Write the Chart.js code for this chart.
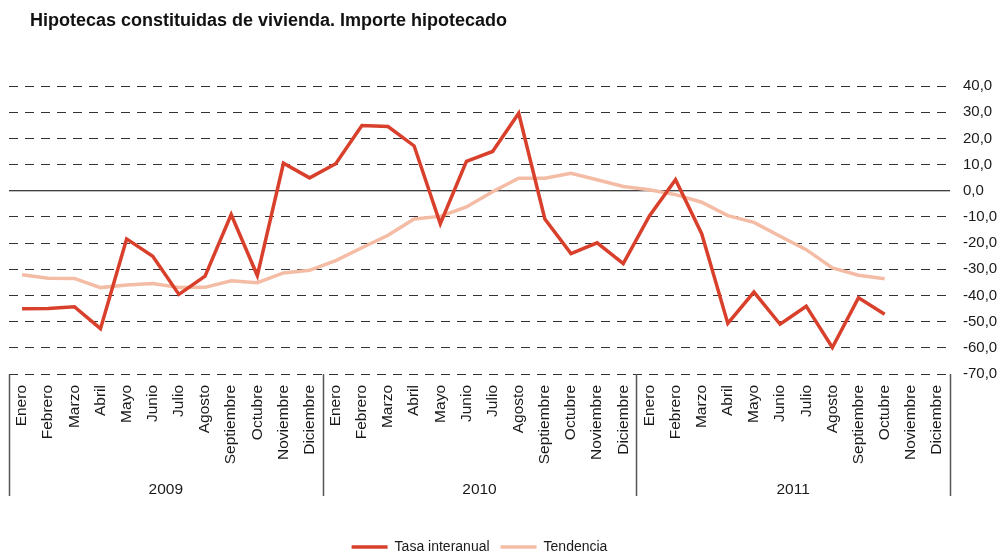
<!DOCTYPE html>
<html>
<head>
<meta charset="utf-8">
<script src="https://cdn.jsdelivr.net/npm/chart.js@4"></script>
<style>
  html, body { margin: 0; padding: 0; background: #fff; }
  #wrap { position: relative; width: 1000px; height: 556px; }
  #title { position: absolute; left: 30px; top: 10px; font: bold 18px "Liberation Sans", Arial, sans-serif; color: #111; line-height: 20px; }
</style>
</head>
<body>
<div id="wrap">
  <div id="title">Hipotecas constituidas de vivienda. Importe hipotecado</div>
  <canvas id="myChart" width="1000" height="556"></canvas>
</div>
<script>
var months = ["Enero","Febrero","Marzo","Abril","Mayo","Junio","Julio","Agosto","Septiembre","Octubre","Noviembre","Diciembre"];
var years = ["2009", "2010", "2011"];

// tasa interanual, 2009-01 .. 2011-12
var tasaInteranual = [
  -45.1, -45.0, -44.3, -52.7, -18.4, -25.0, -39.6, -32.6, -9.1, -32.4, 10.5, 4.9,
  10.3, 24.9, 24.5, 17.1, -12.6, 11.2, 15.0, 29.6, -10.8, -24.0, -19.9, -27.8,
  -9.6, 4.2, -16.4, -50.7, -38.7, -51.0, -44.1, -59.9, -40.9, -47.2, null, null
];
var tendencia = [
  -32.1, -33.4, -33.5, -37.0, -36.0, -35.4, -37.0, -36.9, -34.4, -35.1, -31.4, -30.4,
  -26.7, -21.8, -17.0, -10.8, -9.8, -6.2, -0.4, 4.8, 4.8, 6.7, 4.2, 1.6,
  0.4, -1.5, -4.4, -9.5, -12.1, -17.4, -22.5, -29.5, -32.3, -33.6, null, null
];
var yTicks = { min: -70, max: 40, step: 10 };

var labels = [];
years.forEach(function (y) {
  months.forEach(function (m) { labels.push(m); });
});

var FONT = "'Liberation Sans', Arial, sans-serif";

// year separators + solid zero line
var extras = {
  id: "extras",
  beforeDatasetsDraw: function (chart) {
    var ctx = chart.ctx, a = chart.chartArea, y0 = chart.scales.y.getPixelForValue(0);
    ctx.save();
    ctx.strokeStyle = "#000";
    ctx.lineWidth = 1.2;
    ctx.beginPath();
    ctx.moveTo(a.left, y0);
    ctx.lineTo(a.right, y0);
    ctx.stroke();
    ctx.restore();
  },
  afterDraw: function (chart) {
    var ctx = chart.ctx, xs = chart.scales.x, a = chart.chartArea;
    var bottom = chart.scales.x2.top + 22;
    var xs_ = [xs.left];
    for (var i = 1; i < years.length; i++) {
      var k = i * months.length;
      xs_.push((xs.getPixelForValue(k - 1) + xs.getPixelForValue(k)) / 2);
    }
    xs_.push(xs.right);
    ctx.save();
    ctx.strokeStyle = "#555";
    ctx.lineWidth = 1.5;
    xs_.forEach(function (x) {
      ctx.beginPath();
      ctx.moveTo(Math.round(x) + 0.5, a.bottom);
      ctx.lineTo(Math.round(x) + 0.5, bottom);
      ctx.stroke();
    });
    ctx.restore();
  }
};

new Chart("myChart", {
  type: "line",
  data: {
    labels: labels,
    datasets: [{
      label: "Tasa interanual",
      data: tasaInteranual,
      borderColor: "#d9402c",
      backgroundColor: "#d9402c",
      borderWidth: 3.5,
      pointRadius: 0,
      tension: 0
    }, {
      label: "Tendencia",
      data: tendencia,
      borderColor: "#f4bca5",
      backgroundColor: "#f4bca5",
      borderWidth: 3.5,
      pointRadius: 0,
      tension: 0
    }]
  },
  options: {
    responsive: false,
    animation: false,
    layout: { padding: { top: 86, left: 9, right: 0, bottom: 0 } },
    scales: {
      x: {
        position: "bottom",
        offset: true,
        grid: { display: false, drawTicks: false },
        border: { display: false },
        ticks: {
          autoSkip: false, minRotation: 90, maxRotation: 90,
          padding: 11, color: "#1a1a1a", font: { family: FONT, size: 15.5 }
        },
        afterFit: function (s) { s.height = 100; }
      },
      x2: {
        type: "category",
        labels: years,
        offset: true,
        position: "bottom",
        weight: 1,
        grid: { display: false, drawTicks: false },
        border: { display: false },
        ticks: { padding: 6, color: "#1a1a1a", font: { family: FONT, size: 15.5 } },
        afterFit: function (s) { s.height = 55; }
      },
      y: {
        position: "right",
        min: yTicks.min,
        max: yTicks.max,
        grid: {
          drawTicks: false,
          color: function (c) { return c.tick && c.tick.value === 0 ? "rgba(0,0,0,0)" : "#333"; },
          lineWidth: 1
        },
        border: { display: false, dash: [9, 7] },
        ticks: {
          stepSize: yTicks.step,
          padding: 13,
          color: "#1a1a1a",
          font: { family: FONT, size: 15 },
          callback: function (v) { return v.toFixed(1).replace(".", ","); }
        },
        afterFit: function (s) { s.width = 50; }
      }
    },
    plugins: {
      legend: {
        position: "bottom",
        fullSize: false,
        maxHeight: 27,
        labels: {
          usePointStyle: true,
          pointStyle: "line",
          pointStyleWidth: 36,
          padding: 11,
          color: "#1a1a1a",
          font: { family: FONT, size: 14 }
        }
      },
      title: { display: false },
      tooltip: { enabled: false }
    }
  },
  plugins: [extras]
});
</script>
</body>
</html>
